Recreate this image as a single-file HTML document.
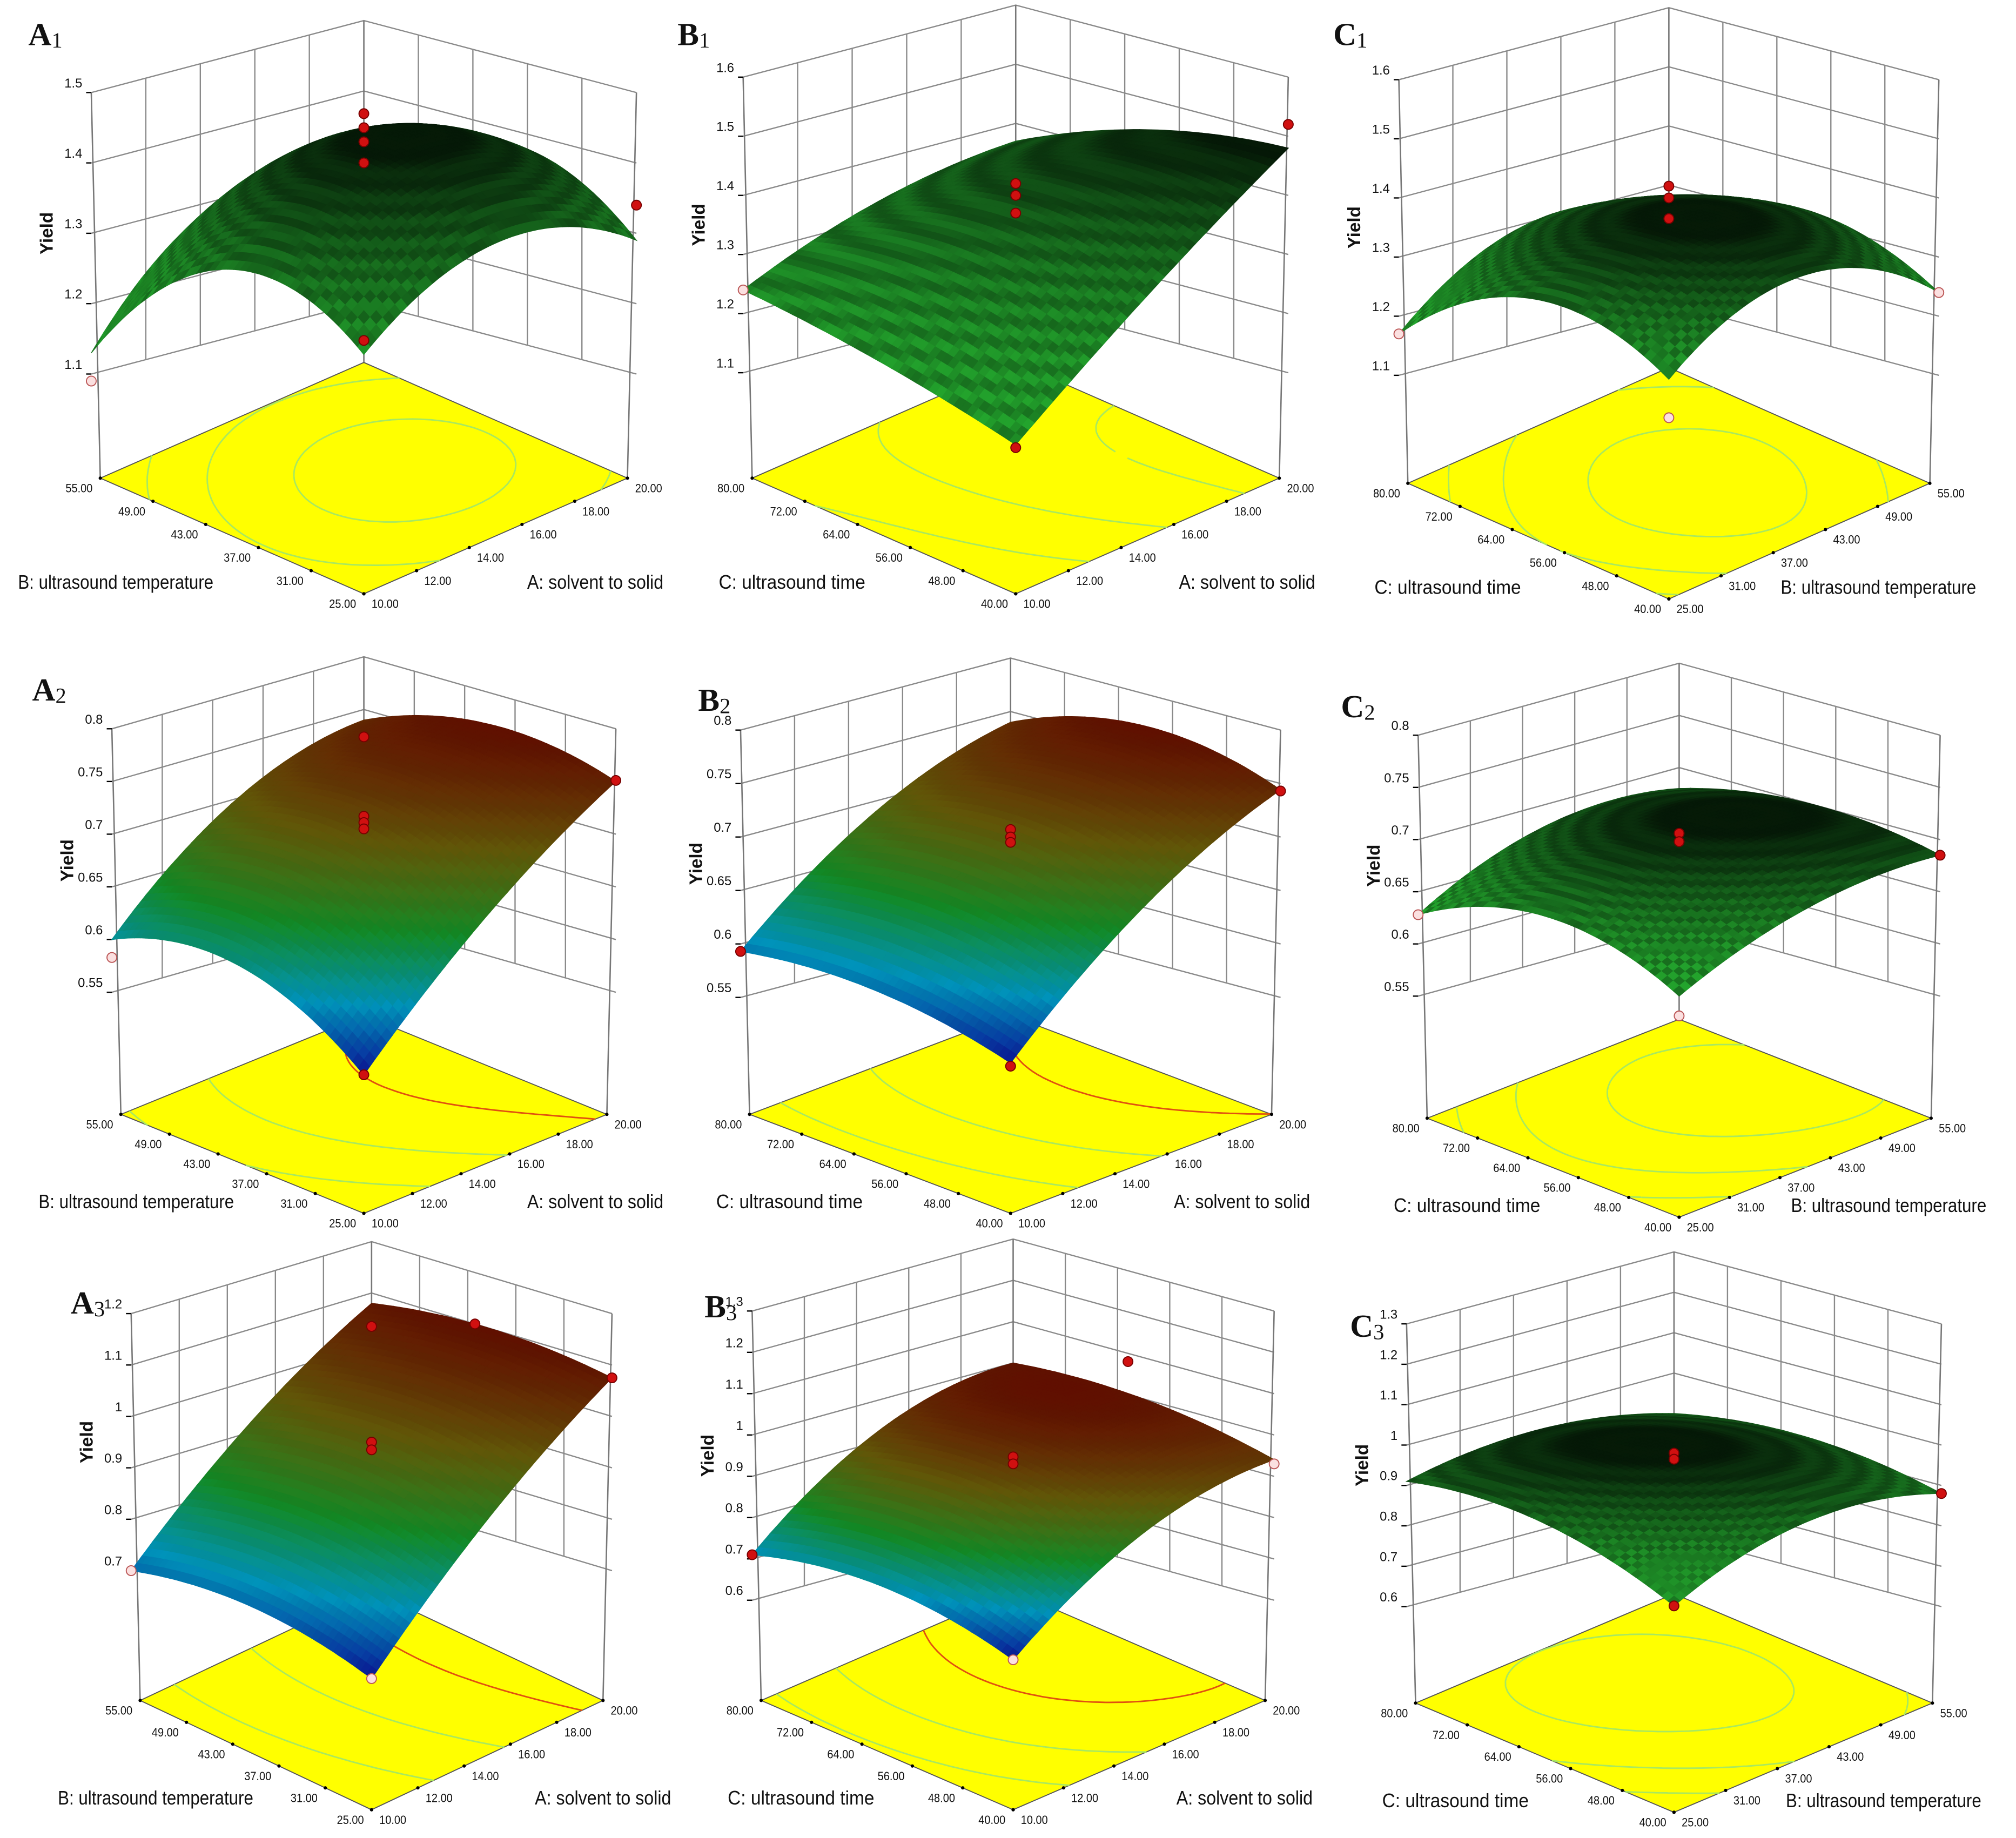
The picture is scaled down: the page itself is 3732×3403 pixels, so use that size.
<!DOCTYPE html>
<html><head><meta charset="utf-8"><style>
html,body{margin:0;padding:0;background:#fff}
svg{display:block}
</style></head><body>
<svg id="fig" xmlns="http://www.w3.org/2000/svg" width="3732" height="3403" viewBox="0 0 1568 1430" preserveAspectRatio="none" font-family="Liberation Sans, sans-serif"></svg>
<script>
// ---- data ----
// surface grids: rows = left-axis factor low/mid/high, cols = right-axis factor low/mid/high
const surfA1=[[1.23,1.34,1.29],[1.30,1.43,1.38],[1.13,1.30,1.26]];
const surfB1=[[1.10,1.30,1.48],[1.18,1.37,1.45],[1.24,1.33,1.37]];
const surfC1=[[1.215,1.33,1.24],[1.29,1.37,1.32],[1.17,1.30,1.25]];
const surfA2=[[0.54,0.66,0.75],[0.61,0.716,0.77],[0.60,0.70,0.74]];
const surfB2=[[0.556,0.67,0.744],[0.59,0.707,0.77],[0.593,0.69,0.74]];
const surfC2=[[0.619,0.67,0.685],[0.66,0.70,0.70],[0.628,0.68,0.68]];
const surfA3=[[0.63,0.88,1.075],[0.70,0.94,1.10],[0.70,0.92,1.08]];
const surfB3=[[0.63,0.85,0.94],[0.72,0.95,1.00],[0.71,0.93,1.00]];
const surfC3=[[0.78,0.90,0.88],[0.90,0.97,0.93],[0.91,0.95,0.90]];
// z ticks
const ticksA1=[1.1,1.2,1.3,1.4,1.5];
const ticksB1=[1.1,1.2,1.3,1.4,1.5,1.6];
const ticksC1=[1.1,1.2,1.3,1.4,1.5,1.6];
const ticksA2=[0.55,0.6,0.65,0.7,0.75,0.8];
const ticksB2=[0.55,0.6,0.65,0.7,0.75,0.8];
const ticksC2=[0.55,0.6,0.65,0.7,0.75,0.8];
const ticksA3=[0.7,0.8,0.9,1,1.1,1.2];
const ticksB3=[0.6,0.7,0.8,0.9,1,1.1,1.2,1.3];
const ticksC3=[0.6,0.7,0.8,0.9,1,1.1,1.2,1.3];
// design points [rightFactor(0..1), leftFactor(0..1), yield, above(1)/below(0)]
const ptsA1=[[.5,.5,1.47,1],[.5,.5,1.45,1],[.5,.5,1.43,1],[.5,.5,1.40,1],[1,0,1.34,1],[0,0,1.25,1],[0,1,1.09,0]];
const ptsB1=[[.5,.5,1.42,1],[.5,.5,1.40,1],[.5,.5,1.37,1],[1,0,1.52,1],[0,0,1.095,1],[0,1,1.24,0]];
const ptsC1=[[.5,.5,1.42,1],[.5,.5,1.40,1],[.5,.5,1.365,1],[1,0,1.24,0],[0,1,1.17,0],[0,0,1.15,0]];
const ptsA2=[[.5,.5,0.717,1],[.5,.5,0.711,1],[.5,.5,0.705,1],[1,1,0.724,1],[1,0,0.751,1],[0,0,0.54,1],[0,1,0.583,0]];
const ptsB2=[[.5,.5,0.707,1],[.5,.5,0.70,1],[.5,.5,0.695,1],[1,0,0.743,1],[0,0,0.553,1],[0,1,0.593,1]];
const ptsC2=[[.5,.5,0.706,1],[.5,.5,0.698,1],[1,0,0.685,1],[0,1,0.628,0],[0,0,0.60,0]];
const ptsA3=[[.5,.5,0.95,1],[.5,.5,0.935,1],[1,1,1.035,1],[1,.57,1.10,1],[1,0,1.075,1],[0,0,0.63,0],[0,1,0.70,0]];
const ptsB3=[[.5,.5,0.947,1],[.5,.5,0.93,1],[1,.56,1.08,1],[1,0,0.93,0],[0,0,0.63,0],[0,1,0.71,1]];
const ptsC3=[[.5,.5,0.98,1],[.5,.5,0.965,1],[1,0,0.88,1],[0,0,0.78,1]];
// floor tick labels
const valsA=[10,12,14,16,18,20];
const valsB=[25,31,37,43,49,55];
const valsC=[40,48,56,64,72,80];

// ---- layout (not data) ----
const TA='A: solvent to solid',TB='B: ultrasound temperature',TC='C: ultrasound time';
const panels=[
 {id:'a1',lab:'A',sub:'1',lx:22,ly:35,cx:283,W:212,yT:72,yB:291,fc:372,FH:90,grid:surfA1,ticks:ticksA1,pts:ptsA1,R:valsA,L:valsB,rt:TA,lt:TB,style:'g'},
 {id:'b1',lab:'B',sub:'1',lx:527,ly:35,cx:790,W:212,yT:60,yB:290,fc:372,FH:90,grid:surfB1,ticks:ticksB1,pts:ptsB1,R:valsA,L:valsC,rt:TA,lt:TC,style:'g'},
 {id:'c1',lab:'C',sub:'1',lx:1037,ly:35,cx:1298,W:210,yT:62,yB:292,fc:376,FH:90,grid:surfC1,ticks:ticksC1,pts:ptsC1,R:valsB,L:valsC,rt:TB,lt:TC,style:'g'},
 {id:'a2',lab:'A',sub:'2',lx:25,ly:545,cx:283,W:196,yT:567,yB:772,fc:867,FH:77,grid:surfA2,ticks:ticksA2,pts:ptsA2,R:valsA,L:valsB,rt:TA,lt:TB,style:'r'},
 {id:'b2',lab:'B',sub:'2',lx:543,ly:553,cx:786,W:210,yT:568,yB:776,fc:867,FH:77,grid:surfB2,ticks:ticksB2,pts:ptsB2,R:valsA,L:valsC,rt:TA,lt:TC,style:'r'},
 {id:'c2',lab:'C',sub:'2',lx:1043,ly:558,cx:1306,W:203,yT:572,yB:775,fc:870,FH:77,grid:surfC2,ticks:ticksC2,pts:ptsC2,R:valsB,L:valsC,rt:TB,lt:TC,style:'g'},
 {id:'a3',lab:'A',sub:'3',lx:55,ly:1022,cx:289,W:187,yT:1022,yB:1222,fc:1323,FH:85,grid:surfA3,ticks:ticksA3,pts:ptsA3,R:valsA,L:valsB,rt:TA,lt:TB,style:'r'},
 {id:'b3',lab:'B',sub:'3',lx:548,ly:1025,cx:788,W:203,yT:1020,yB:1245,fc:1323,FH:85,grid:surfB3,ticks:ticksB3,pts:ptsB3,R:valsA,L:valsC,rt:TA,lt:TC,style:'r'},
 {id:'c3',lab:'C',sub:'3',lx:1050,ly:1040,cx:1302,W:208,yT:1030,yB:1250,fc:1325,FH:85,grid:surfC3,ticks:ticksC3,pts:ptsC3,R:valsB,L:valsC,rt:TB,lt:TC,style:'g'}
];
const titleLen={'A: solvent to solid':106,'B: ultrasound temperature':152,'C: ultrasound time':114};
const NS='http://www.w3.org/2000/svg';
const svg=document.getElementById('fig');
function mk(tag,attrs,parent){const e=document.createElementNS(NS,tag);for(const k in attrs)e.setAttribute(k,attrs[k]);(parent||svg).appendChild(e);return e;}
function L(t){return [2*(t-.5)*(t-1),-4*t*(t-1),2*t*(t-.5)];}
function zval(g,a,b){const la=L(a),lb=L(b);let s=0;for(let j=0;j<3;j++)for(let i=0;i<3;i++)s+=g[j][i]*la[i]*lb[j];return s;}
function rainbow(t){const st=[[0,[10,20,150]],[0.22,[0,150,190]],[0.45,[20,150,40]],[0.7,[120,110,10]],[1,[160,25,0]]];
 for(let k=1;k<st.length;k++){if(t<=st[k][0]){const p=(t-st[k-1][0])/(st[k][0]-st[k-1][0]);return st[k-1][1].map((v,i)=>v+(st[k][1][i]-v)*p);}}return st[st.length-1][1];}

panels.forEach(P=>{
 const g=mk('g',{},svg);
 
 
 const zmin=P.ticks[0],zmax=P.ticks[P.ticks.length-1],W=P.W,D=56,FW=W-7;
 const proj=(a,b,z)=>[P.cx+(a-b)*W,P.yT+(zmax-z)/(zmax-zmin)*(P.yB-P.yT)+D*(1-a-b)];
 const fp=(a,b)=>[P.cx+(a-b)*FW,P.fc+P.FH*(1-a-b)];
 const pl=(pts)=>pts.map(p=>p[0].toFixed(1)+','+p[1].toFixed(1)).join(' ');
 const wall=mk('g',{stroke:'#8a8a8a','stroke-width':1,fill:'none'},g);
 
 
 P.ticks.forEach(z=>{mk('polyline',{points:pl([proj(0,1,z),proj(1,1,z),proj(1,0,z)])},wall);});
 for(let k=1;k<5;k++){const t=k/5;
  mk('line',{x1:proj(t,1,zmin)[0],y1:proj(t,1,zmin)[1],x2:proj(t,1,zmax)[0],y2:proj(t,1,zmax)[1]},wall);
  mk('line',{x1:proj(1,t,zmin)[0],y1:proj(1,t,zmin)[1],x2:proj(1,t,zmax)[0],y2:proj(1,t,zmax)[1]},wall);}
 [[0,1],[1,1],[1,0]].forEach(c=>{const t=proj(c[0],c[1],zmax),f=fp(c[0],c[1]);
  mk('line',{x1:t[0],y1:t[1],x2:f[0],y2:f[1],stroke:'#777','stroke-width':1.1},wall);});
 const fl=mk('polygon',{points:pl([fp(0,0),fp(1,0),fp(1,1),fp(0,1)]),fill:'#ffff00',stroke:'#555','stroke-width':0.8},g);
 
 
 const N=40;let zlo=1e9,zhi=-1e9;const Z=[];
 for(let j=0;j<=N;j++){Z[j]=[];for(let i=0;i<=N;i++){const v=zval(P.grid,i/N,j/N);Z[j][i]=v;zlo=Math.min(zlo,v);zhi=Math.max(zhi,v);}}
 const levels=[0.3,0.6,0.88].map(f=>zlo+(zhi-zlo)*f);
 levels.forEach((lv,li)=>{let d='';
  for(let j=0;j<N;j++)for(let i=0;i<N;i++){const c=[[i,j],[i+1,j],[i+1,j+1],[i,j+1]];const cr=[];
   for(let e=0;e<4;e++){const p=c[e],q=c[(e+1)%4];const v1=Z[p[1]][p[0]],v2=Z[q[1]][q[0]];
    if((v1-lv)*(v2-lv)<0){const t=(lv-v1)/(v2-v1);cr.push(fp((p[0]+(q[0]-p[0])*t)/N,(p[1]+(q[1]-p[1])*t)/N));}}
   for(let k=0;k+1<cr.length;k+=2)d+='M'+cr[k][0].toFixed(1)+' '+cr[k][1].toFixed(1)+'L'+cr[k+1][0].toFixed(1)+' '+cr[k+1][1].toFixed(1);}
  const col=(P.style==='r'&&li===2)?'#e05010':'#a8e860';
  const cp=mk('path',{d:d,stroke:col,'stroke-width':1.2,fill:'none'},g);
  
  });
 const lg=mk('g',{'font-size':9.5,fill:'#111'},g);
 
 
 P.R.forEach((v,k)=>{const p=fp(k/5,0);
  mk('circle',{cx:p[0],cy:p[1],r:1.3,fill:'#000'},lg);
  const t=mk('text',{x:p[0]+6,y:p[1]+11,'text-anchor':'start',textLength:21,lengthAdjust:'spacingAndGlyphs'},lg);t.textContent=v.toFixed(2);});
 P.L.forEach((v,k)=>{const p=fp(0,k/5);
  mk('circle',{cx:p[0],cy:p[1],r:1.3,fill:'#000'},lg);
  const t=mk('text',{x:p[0]-27,y:p[1]+11,'text-anchor':'start',textLength:21,lengthAdjust:'spacingAndGlyphs'},lg);t.textContent=v.toFixed(2);});
 const fr=fp(0,0);
 const l1=titleLen[P.lt],l2=titleLen[P.rt];
 const t1=mk('text',{x:P.cx-W+95-l1,y:fr[1]-4,'font-size':15,fill:'#111',textLength:l1,lengthAdjust:'spacingAndGlyphs'},g);t1.textContent=P.lt;
 
 
 const rx=P.rt===TB?P.cx+87:P.cx+127;
 const t2=mk('text',{x:rx,y:fr[1]-4,'font-size':15,fill:'#111',textLength:l2,lengthAdjust:'spacingAndGlyphs'},g);t2.textContent=P.rt;
 
 
 const zg=mk('g',{'font-size':10,fill:'#111'},g);
 
 
 P.ticks.forEach(z=>{const p=proj(0,1,z);
  mk('line',{x1:p[0]-4,y1:p[1],x2:p[0],y2:p[1],stroke:'#000'},zg);
  const t=mk('text',{x:p[0]-7,y:p[1]-4,'text-anchor':'end'},zg);t.textContent=String(z);});
 const ym=(P.yT+P.yB)/2,yx=P.cx-W-30;
 const yt=mk('text',{x:yx,y:ym,'font-size':14,'font-weight':'bold','text-anchor':'middle',transform:'rotate(-90 '+yx+' '+ym+')',fill:'#111'},g);yt.textContent='Yield';
 
 
 const sg=mk('g',{},g);
 
 
 const M=44,quads=[];
 for(let j=0;j<M;j++)for(let i=0;i<M;i++)quads.push([i,j]);
 quads.sort((p,q)=>(q[0]+q[1])-(p[0]+p[1]));
 quads.forEach(([i,j])=>{const a0=i/M,a1=(i+1)/M,b0=j/M,b1=(j+1)/M;
  const zc=zval(P.grid,(a0+a1)/2,(b0+b1)/2);const tz=(zc-zlo)/(zhi-zlo||1);
  const ring=0.85+0.15*Math.cos(tz*Math.PI*2*14);
  let c;
  if(P.style==='g'){const f=(1-0.85*Math.pow(tz,2.2))*ring;c=[35*f,165*f,45*f];}
  else{const base=rainbow(tz);const f=(1-0.4*Math.pow(tz,2))*(0.88+0.12*ring);c=base.map(v=>v*f);}
  const col='rgb('+c.map(v=>Math.round(Math.max(0,Math.min(255,v)))).join(',')+')';
  mk('polygon',{points:pl([proj(a0,b0,zval(P.grid,a0,b0)),proj(a1,b0,zval(P.grid,a1,b0)),proj(a1,b1,zval(P.grid,a1,b1)),proj(a0,b1,zval(P.grid,a0,b1))]),fill:col,stroke:col,'stroke-width':0.6},sg);});
 const pg=mk('g',{},g);
 
 
 P.pts.forEach(pt=>{const p=proj(pt[0],pt[1],pt[2]);
  const c=mk('circle',{cx:p[0],cy:p[1],r:3.8,fill:pt[3]?'#d01010':'#fbe0e0',stroke:pt[3]?'#700':'#b55','stroke-width':0.8},pg);
  
  });
 const lt=mk('text',{x:P.lx,y:P.ly,'font-size':25,'font-weight':'bold','font-family':'Liberation Serif, serif',fill:'#111'},g);
 
 
 lt.textContent=P.lab;
 const ts=mk('tspan',{'font-size':17,'font-weight':'normal',dy:2},lt);ts.textContent=P.sub;
});
</script>
</body></html>
